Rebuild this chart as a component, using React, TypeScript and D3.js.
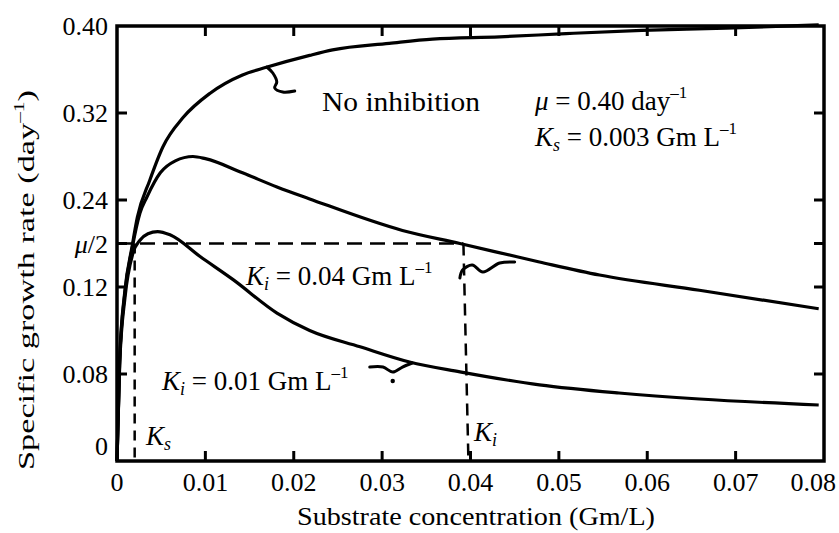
import * as d3 from "d3";

// curves (x: Gm/L, y: day^-1)
const noInhibitionX = [0, 0.0003, 0.0009, 0.0017, 0.0023, 0.0037, 0.0052, 0.0075, 0.0105, 0.0142, 0.0169, 0.0218, 0.0244, 0.0308, 0.0357, 0.0433, 0.0508, 0.0594, 0.0689, 0.0794];
const noInhibitionY = [0, 0.093, 0.157, 0.197, 0.224, 0.258, 0.289, 0.316, 0.338, 0.355, 0.362, 0.373, 0.378, 0.384, 0.388, 0.390, 0.393, 0.396, 0.398, 0.401];

const ki04X = [0, 0.0003, 0.0009, 0.0017, 0.0026, 0.0034, 0.0049, 0.0066, 0.0086, 0.0100, 0.0142, 0.0181, 0.0218, 0.0323, 0.0388, 0.0478, 0.0546, 0.0659, 0.0794];
const ki04Y = [0, 0.091, 0.155, 0.195, 0.228, 0.243, 0.265, 0.276, 0.280, 0.278, 0.265, 0.252, 0.241, 0.212, 0.200, 0.183, 0.171, 0.157, 0.140];

const ki01X = [0, 0.0003, 0.0009, 0.0018, 0.0026, 0.0035, 0.0046, 0.006, 0.0094, 0.0131, 0.0181, 0.0218, 0.0275, 0.0331, 0.0388, 0.0478, 0.0568, 0.0659, 0.0794];
const ki01Y = [0, 0.088, 0.150, 0.191, 0.203, 0.209, 0.211, 0.208, 0.188, 0.167, 0.136, 0.120, 0.105, 0.091, 0.082, 0.070, 0.0625, 0.057, 0.0515];

// axis ticks
const xTicks = [0, 0.01, 0.02, 0.03, 0.04, 0.05, 0.06, 0.07, 0.08];
const xTickLabels = ["0", "0.01", "0.02", "0.03", "0.04", "0.05", "0.06", "0.07", "0.08"];
const yTicks = [0, 0.08, 0.16, 0.2, 0.24, 0.32, 0.4];
const yTickLabels = ["0", "0.08", "0.12", "μ/2", "0.24", "0.32", "0.40"];

// guide lines
const halfMu = 0.2;
const ksLine = 0.002;
const kiLine = 0.0392;

// hand-drawn pointers
const pointer1 = [[0.01695, 0.3623], [0.01763, 0.3568], [0.01808, 0.3485], [0.01785, 0.343], [0.01876, 0.3393], [0.02011, 0.3402]];
const pointer2 = [[0.045, 0.183], [0.0433, 0.1821], [0.0414, 0.1738], [0.0402, 0.1802], [0.0391, 0.1756], [0.0388, 0.1683]];
const pointer3 = [[0.0286, 0.0864], [0.0301, 0.0864], [0.0312, 0.0818], [0.0323, 0.0864], [0.0334, 0.0901]];

const W = 839, H = 533;
const font = "'Liberation Serif', 'Times New Roman', serif";

export default function App() {
  const x = d3.scaleLinear().domain([0, 0.08]).range([117, 824]);
  const y = d3.scaleLinear().domain([0, 0.4]).range([461, 26]);

  const line = d3.line<number[]>()
    .x((d) => x(d[0]))
    .y((d) => y(d[1]))
    .curve(d3.curveMonotoneX);
  const squiggle = d3.line<number[]>()
    .x((d) => x(d[0]))
    .y((d) => y(d[1]))
    .curve(d3.curveCatmullRom);

  const zip = (xs: number[], ys: number[]) => xs.map((v, i) => [v, ys[i]]);
  const series = [zip(noInhibitionX, noInhibitionY), zip(ki04X, ki04Y), zip(ki01X, ki01Y)];

  const left = x(0), right = x(0.08), top = y(0.4), bottom = y(0);

  const sub = (main: string, s: string, rest: string) => (
    <>
      <tspan fontStyle="italic">{main}</tspan>
      <tspan fontStyle="italic" fontSize={18} dy={5}>{s}</tspan>
      <tspan dy={-5}>{rest}</tspan>
    </>
  );

  return (
    <svg width={W} height={H} style={{ position: "absolute", left: 0, top: 0, background: "#fff" }} fontFamily={font}>
      {/* frame */}
      <rect x={left} y={top} width={right - left} height={bottom - top} fill="none" stroke="#000" strokeWidth={3.5} />

      {/* ticks, pointing inward */}
      {xTicks.slice(1, -1).map((t) => (
        <g key={"xt" + t}>
          <line x1={x(t)} x2={x(t)} y1={bottom} y2={bottom - 10} stroke="#000" strokeWidth={3} />
          <line x1={x(t)} x2={x(t)} y1={top} y2={top + 10} stroke="#000" strokeWidth={3} />
        </g>
      ))}
      {yTicks.slice(1, -1).map((t) => (
        <g key={"yt" + t}>
          <line x1={left} x2={left + 10} y1={y(t)} y2={y(t)} stroke="#000" strokeWidth={3} />
          <line x1={right} x2={right - 10} y1={y(t)} y2={y(t)} stroke="#000" strokeWidth={3} />
        </g>
      ))}

      {/* tick labels */}
      {xTicks.map((t, i) => (
        <text key={"xl" + t} x={i === xTicks.length - 1 ? 836 : x(t)} y={bottom + 30} fontSize={26}
          textAnchor={i === xTicks.length - 1 ? "end" : "middle"}>{xTickLabels[i]}</text>
      ))}
      {yTicks.map((t, i) => (
        <text key={"yl" + t} x={108} y={y(t) + (t === 0 ? -6 : 9)} fontSize={26} textAnchor="end">
          {yTickLabels[i] === "μ/2" ? (<><tspan fontStyle="italic">μ</tspan>/2</>) : yTickLabels[i]}
        </text>
      ))}

      {/* guide lines */}
      <line x1={left} x2={x(kiLine)} y1={y(halfMu)} y2={y(halfMu)} stroke="#000" strokeWidth={2.5} strokeDasharray="15 8" />
      <line x1={x(ksLine)} x2={x(ksLine)} y1={y(halfMu)} y2={bottom} stroke="#000" strokeWidth={2.5} strokeDasharray="10 7" />
      <line x1={x(kiLine)} x2={x(kiLine) + 5} y1={y(halfMu)} y2={bottom} stroke="#000" strokeWidth={2.5} strokeDasharray="12 8" />

      {/* curves */}
      {series.map((s, i) => (
        <path key={"s" + i} d={line(s) || ""} fill="none" stroke="#000" strokeWidth={3.2} />
      ))}

      {/* pointers */}
      {[pointer1, pointer2, pointer3].map((p, i) => (
        <path key={"p" + i} d={squiggle(p) || ""} fill="none" stroke="#000" strokeWidth={3} strokeLinecap="round" />
      ))}
      <circle cx={x(0.0312)} cy={y(0.0736)} r={2.2} fill="#000" />

      {/* annotations */}
      <text x={322} y={111} fontSize={27} textLength={158} lengthAdjust="spacingAndGlyphs">No inhibition</text>
      <text x={535} y={110} fontSize={27}>
        <tspan fontStyle="italic">μ</tspan> = 0.40 day<tspan fontSize={17} dy={-12}>–1</tspan>
      </text>
      <text x={535} y={146} fontSize={27}>
        {sub("K", "s", " = 0.003 Gm L")}<tspan fontSize={17} dy={-12}>–1</tspan>
      </text>
      <text x={246} y={285} fontSize={27}>
        {sub("K", "i", " = 0.04 Gm L")}<tspan fontSize={17} dy={-12}>–1</tspan>
      </text>
      <text x={162} y={390} fontSize={27}>
        {sub("K", "i", " = 0.01 Gm L")}<tspan fontSize={17} dy={-12}>–1</tspan>
      </text>
      <text x={146} y={445} fontSize={27}>{sub("K", "s", "")}</text>
      <text x={474} y={441} fontSize={27}>{sub("K", "i", "")}</text>

      {/* axis titles */}
      <text x={476} y={525} fontSize={25} textAnchor="middle" textLength={358} lengthAdjust="spacingAndGlyphs">
        Substrate concentration (Gm/L)
      </text>
      <text transform="translate(34,280) rotate(-90)" fontSize={24} textAnchor="middle" textLength={380} lengthAdjust="spacingAndGlyphs">
        Specific growth rate (day<tspan fontSize={15} dy={-10}>–1</tspan><tspan dy={10}>)</tspan>
      </text>
    </svg>
  );
}
